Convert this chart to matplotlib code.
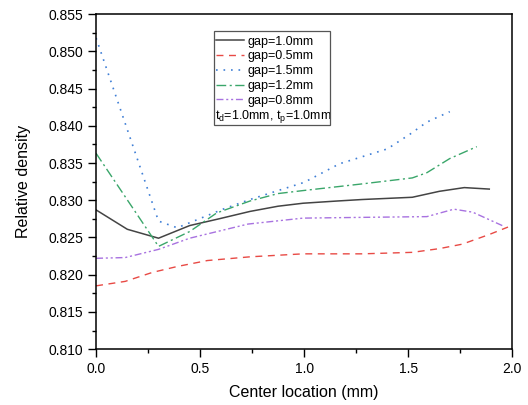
import numpy as np
import matplotlib
matplotlib.use("Agg")
import matplotlib.pyplot as plt
from matplotlib.patches import Rectangle
from matplotlib.ticker import MultipleLocator

plt.rcParams['font.family'] = ['Liberation Sans', 'DejaVu Sans']

# data
x_10 = [0, 0.15, 0.3, 0.45, 0.59, 0.74, 0.875, 0.995, 1.16, 1.28, 1.52, 1.65, 1.77, 1.89]
y_10 = [0.8287, 0.8261, 0.8249, 0.8266, 0.8275, 0.8285, 0.8292, 0.8296, 0.8299, 0.8301,
        0.8304, 0.8312, 0.8317, 0.8315]

x_05 = [0, 0.14, 0.27, 0.39, 0.535, 0.74, 0.995, 1.28, 1.52, 1.65, 1.76, 1.89, 1.98]
y_05 = [0.8185, 0.8191, 0.8203, 0.8211, 0.8219, 0.8224, 0.8228, 0.8228, 0.8230, 0.8235,
        0.8241, 0.8254, 0.8264]

x_15 = [0, 0.3, 0.39, 0.61, 0.74, 0.875, 1.0, 1.17, 1.40, 1.51, 1.59, 1.70]
y_15 = [0.8518, 0.8272, 0.8263, 0.8288, 0.8301, 0.8313, 0.8324, 0.8349, 0.8369, 0.8389,
        0.8405, 0.8419]

x_12 = [0, 0.3, 0.45, 0.58, 0.74, 0.875, 0.995, 1.28, 1.52, 1.59, 1.70, 1.83]
y_12 = [0.8363, 0.8238, 0.8258, 0.8283, 0.8299, 0.8309, 0.8313, 0.8322, 0.8330, 0.8337,
        0.8356, 0.8372]

x_08 = [0, 0.14, 0.3, 0.45, 0.73, 0.995, 1.28, 1.59, 1.72, 1.81, 1.96]
y_08 = [0.8222, 0.8223, 0.8234, 0.8249, 0.8268, 0.8276, 0.8277, 0.8278, 0.8288, 0.8284,
        0.8265]

labels = ['gap=1.0mm', 'gap=0.5mm', 'gap=1.5mm', 'gap=1.2mm', 'gap=0.8mm']

fig = plt.figure(figsize=(5.28, 4.05), dpi=100)
ax = fig.add_axes([0.182, 0.138, 0.788, 0.827])

ax.plot(x_10, y_10, color='#444444', lw=1.1, ls='-', label=labels[0])
ax.plot(x_05, y_05, color='#e84a45', lw=1.0, ls=(0, (5, 4)), label=labels[1])
ax.plot(x_15, y_15, color='#3f7fd6', lw=1.2, ls=(0, (1, 3.5)), label=labels[2])
ax.plot(x_12, y_12, color='#3aa66a', lw=1.0, ls=(0, (7, 2.5, 1.5, 2.5)), label=labels[3])
ax.plot(x_08, y_08, color='#a872e0', lw=1.0, ls=(0, (5, 2, 1.5, 2, 1.5, 2)), label=labels[4])

ax.set_xlim(0, 2.0)
ax.set_ylim(0.810, 0.855)
ax.xaxis.set_major_locator(MultipleLocator(0.5))
ax.xaxis.set_minor_locator(MultipleLocator(0.25))
ax.yaxis.set_major_locator(MultipleLocator(0.005))
ax.yaxis.set_minor_locator(MultipleLocator(0.0025))
ax.xaxis.set_major_formatter(matplotlib.ticker.FormatStrFormatter('%.1f'))
ax.yaxis.set_major_formatter(matplotlib.ticker.FormatStrFormatter('%.3f'))
ax.tick_params(which='major', direction='out', length=6, width=1, labelsize=10)
ax.tick_params(which='minor', direction='out', length=3, width=1)
for s in ax.spines.values():
    s.set_linewidth(1.1)

ax.set_xlabel('Center location (mm)', fontsize=11.5, labelpad=6)
ax.set_ylabel('Relative density', fontsize=11.5, labelpad=12)

# legend box with an extra text line at the bottom
bx0, bx1, by0, by1 = 0.2837, 0.5625, 0.6687, 0.9507
ax.add_patch(Rectangle((bx0, by0), bx1 - bx0, by1 - by0, transform=ax.transAxes,
                       fill=False, edgecolor='#555555', lw=0.9, zorder=5))
leg = ax.legend(loc='upper left', bbox_to_anchor=(bx0 - 0.004, 0.9469), frameon=False,
                fontsize=9, handlelength=2.2, handletextpad=0.3, labelspacing=0.22,
                borderpad=0.3, borderaxespad=0)
ax.text(bx0 + 0.003, 0.6935, r'$\mathregular{t_d}$=1.0mm, $\mathregular{t_p}$=1.0mm',
        transform=ax.transAxes, fontsize=9, va='center', ha='left')

fig.savefig('out.png', dpi=100)
